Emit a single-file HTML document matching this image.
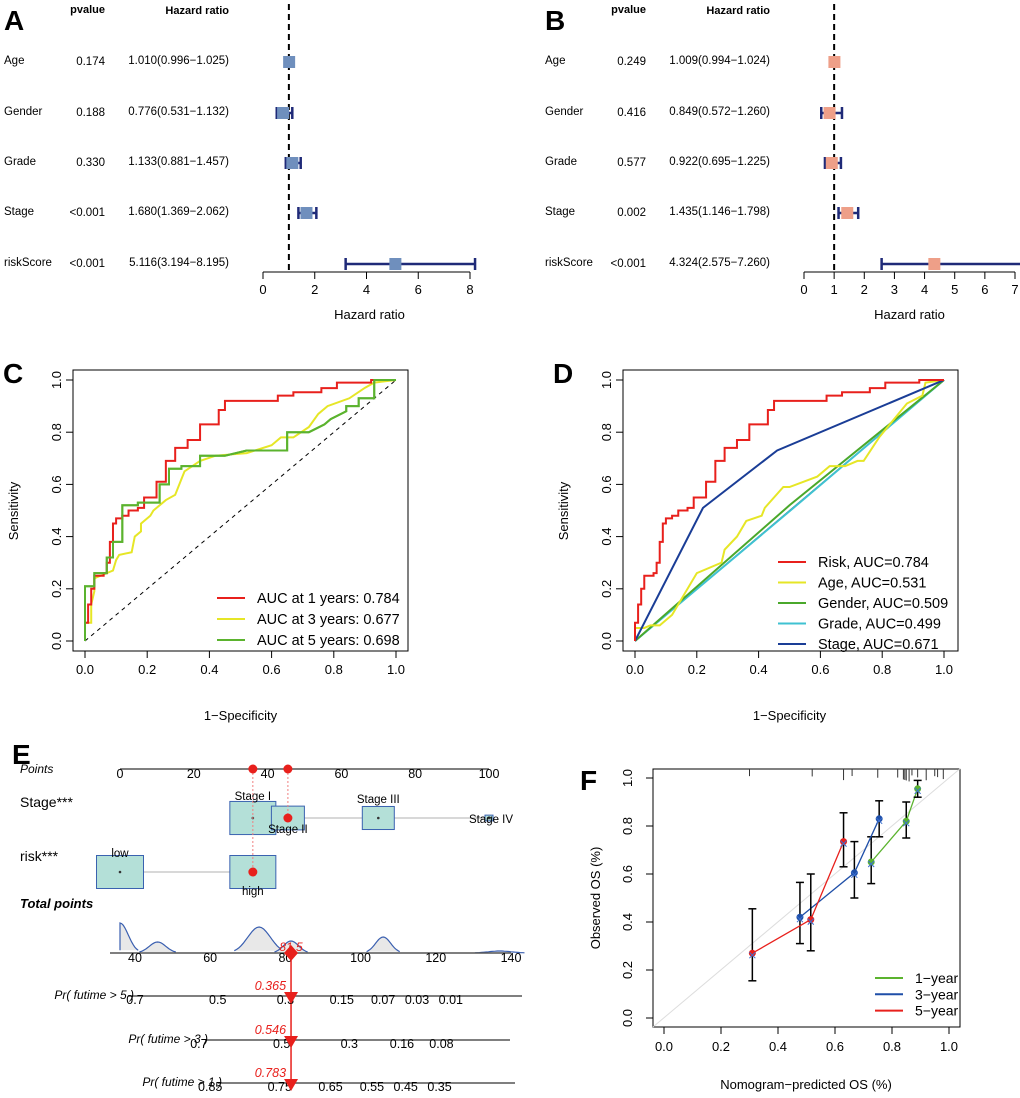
<!DOCTYPE html>
<html><head><meta charset="utf-8"><style>
body{margin:0;background:#fff}
svg{display:block;font-family:"Liberation Sans",Arial,sans-serif}
</style></head><body>
<svg id="fig" width="1020" height="1098" viewBox="0 0 1020 1098" xmlns="http://www.w3.org/2000/svg">
<g id="gA"></g>
<g id="gB"></g>
<g id="gC"></g>
<g id="gD"></g>
<g id="gE"></g>
<g id="gF"></g>
</svg>
<script>
// ---------- data ----------
const forestVars = ["Age","Gender","Grade","Stage","riskScore"];
const aP = ["0.174","0.188","0.330","<0.001","<0.001"];
const aHR = [1.010,0.776,1.133,1.680,5.116];
const aLo = [0.996,0.531,0.881,1.369,3.194];
const aHi = [1.025,1.132,1.457,2.062,8.195];
const aTicks = [0,2,4,6,8];
const bP = ["0.249","0.416","0.577","0.002","<0.001"];
const bHR = [1.009,0.849,0.922,1.435,4.324];
const bLo = [0.994,0.572,0.695,1.146,2.575];
const bHi = [1.024,1.260,1.225,1.798,7.260];
const bTicks = [0,1,2,3,4,5,6,7];

const rocTicks = [0,0.2,0.4,0.6,0.8,1.0];
const c1Fpr=[0,0,0.01,0.01,0.02,0.02,0.03,0.03,0.06,0.06,0.07,0.07,0.08,0.08,0.09,0.09,0.1,0.1,0.12,0.12,0.14,0.14,0.17,0.17,0.19,0.19,0.23,0.23,0.26,0.26,0.29,0.29,0.33,0.33,0.37,0.37,0.43,0.43,0.45,0.45,0.62,0.62,0.67,0.67,0.76,0.76,0.81,0.81,0.92,0.92,1];
const c1Tpr=[0,0.07,0.07,0.14,0.14,0.2,0.2,0.25,0.25,0.26,0.26,0.3,0.3,0.38,0.38,0.45,0.45,0.47,0.47,0.48,0.48,0.5,0.5,0.51,0.51,0.55,0.55,0.61,0.61,0.69,0.69,0.74,0.74,0.77,0.77,0.83,0.83,0.885,0.885,0.92,0.92,0.94,0.94,0.953,0.953,0.969,0.969,0.99,0.99,1,1];
const c3Fpr=[0,0,0.02,0.02,0.03,0.03,0.07,0.09,0.1,0.11,0.15,0.16,0.18,0.18,0.21,0.22,0.26,0.29,0.31,0.32,0.37,0.42,0.52,0.6,0.63,0.67,0.72,0.75,0.78,0.85,0.9,0.93,1];
const c3Tpr=[0,0.07,0.07,0.14,0.19,0.24,0.26,0.27,0.31,0.33,0.34,0.4,0.42,0.45,0.48,0.5,0.54,0.56,0.62,0.65,0.69,0.71,0.72,0.75,0.78,0.78,0.82,0.87,0.9,0.93,0.97,0.99,1];
const c5Fpr=[0,0,0.03,0.03,0.07,0.07,0.09,0.09,0.12,0.12,0.17,0.17,0.24,0.24,0.27,0.27,0.31,0.31,0.37,0.37,0.45,0.52,0.65,0.65,0.72,0.77,0.79,0.84,0.84,0.88,0.88,0.93,0.93,1];
const c5Tpr=[0,0.21,0.21,0.26,0.26,0.32,0.32,0.38,0.38,0.52,0.52,0.53,0.53,0.6,0.6,0.66,0.66,0.67,0.67,0.71,0.71,0.73,0.73,0.8,0.8,0.83,0.85,0.88,0.9,0.9,0.93,0.93,1,1];
const dAgeFpr=[0,0,0.03,0.05,0.08,0.12,0.2,0.28,0.29,0.33,0.36,0.41,0.42,0.48,0.5,0.59,0.63,0.68,0.72,0.74,0.79,0.88,0.93,0.94,1];
const dAgeTpr=[0,0.05,0.05,0.06,0.06,0.1,0.26,0.3,0.35,0.4,0.46,0.48,0.51,0.59,0.59,0.63,0.67,0.67,0.69,0.69,0.78,0.91,0.94,0.99,1];
const dGenFpr=[0,0.5,1], dGenTpr=[0,0.52,1];
const dGrdFpr=[0,0.5,1], dGrdTpr=[0,0.497,1];
const dStgFpr=[0,0.22,0.46,1], dStgTpr=[0,0.51,0.73,1];
const cLabels=["AUC at 1 years: 0.784","AUC at 3 years: 0.677","AUC at 5 years: 0.698"];
const dLabels=["Risk, AUC=0.784","Age, AUC=0.531","Gender, AUC=0.509","Grade, AUC=0.499","Stage, AUC=0.671"];

const ptsTicks=[0,20,40,60,80,100];
const stageLevels=["Stage I","Stage II","Stage III","Stage IV"];
const stagePts=[36,45.5,70,100];
const stageSize=[46,33,32,8];
const riskLevels=["low","high"];
const riskPts=[0,36];
const riskSize=[47,46];
const totTicks=[40,60,80,100,120,140];
const densCenters=[36,46,73,81.5,106,137];
const densHeights=[30,11,26,12,16,2];
const densWidths=[2.2,2.2,3,2,2,3];
const totalScore=81.5;
const pr5Labels=["0.7","0.5","0.3","0.15","0.07","0.03","0.01"];
const pr5Tot=[40,62,80,95,106,115,124];
const pr3Labels=["0.7","0.5","0.3","0.16","0.08"];
const pr3Tot=[57,79,97,111,121.5];
const pr1Labels=["0.85","0.75","0.65","0.55","0.45","0.35"];
const pr1Tot=[60,78.5,92,103,112,121];
const prValues=["0.365","0.546","0.783"];

const calTicks=[0,0.2,0.4,0.6,0.8,1.0];
const cal1Pred=[0.727,0.85,0.89], cal1Obs=[0.65,0.82,0.955], cal1Lo=[0.56,0.75,0.92], cal1Hi=[0.755,0.90,0.99];
const cal3Pred=[0.477,0.668,0.755], cal3Obs=[0.42,0.605,0.83], cal3Lo=[0.31,0.50,0.755], cal3Hi=[0.565,0.735,0.905];
const cal5Pred=[0.31,0.515,0.63], cal5Obs=[0.27,0.41,0.735], cal5Lo=[0.155,0.28,0.63], cal5Hi=[0.455,0.60,0.855];
const rugPred=[0.3,0.52,0.63,0.66,0.75,0.82,0.84,0.845,0.85,0.86,0.87,0.89,0.92,0.95,0.96,0.98];

// ---------- helpers ----------
const NS="http://www.w3.org/2000/svg";
function el(parent,tag,attrs,text){const e=document.createElementNS(NS,tag);for(const k in attrs)e.setAttribute(k,attrs[k]);if(text!==undefined)e.textContent=text;parent.appendChild(e);return e;}
function lin(d0,d1,r0,r1){return v=>r0+(v-d0)*(r1-r0)/(d1-d0);}

function panelLetter(g,x,y,t){const e=el(g,'text',{x:x,y:y,'font-size':28,'font-weight':'bold'},t);

}

// ---------- forest ----------
function forest(g,ox,pR,hrR,ax0,ax1,tmax,ticks,P,HR,LO,HI,fill,letter){
  const X=lin(0,tmax,ax0,ax1);
  const rows=[60,111,161,211,262];
  panelLetter(g,ox+4,30,letter);
  let t=el(g,'text',{x:pR,y:13,'font-size':11,'font-weight':'bold','text-anchor':'end'},'pvalue');
  
  t=el(g,'text',{x:hrR,y:14,'font-size':11,'font-weight':'bold','text-anchor':'end'},'Hazard ratio');
  
  const dl=el(g,'line',{x1:X(1),x2:X(1),y1:4,y2:272,stroke:'#000','stroke-width':2,'stroke-dasharray':'6,4'});
  
  forestVars.forEach((v,i)=>{
    const y=rows[i];
    let e=el(g,'text',{x:ox+4,y:y+4,'font-size':11.5},v);
    
    e=el(g,'text',{x:pR,y:y+5,'font-size':11.5,'text-anchor':'end'},P[i]);
    
    e=el(g,'text',{x:hrR,y:y+4,'font-size':11.5,'text-anchor':'end'},HR[i].toFixed(3)+'('+LO[i].toFixed(3)+'\u2212'+HI[i].toFixed(3)+')');
    
    const ci=el(g,'g',{});
    
    el(ci,'line',{x1:X(LO[i]),x2:X(HI[i]),y1:y+2,y2:y+2,stroke:'#1f2a78','stroke-width':2.5});
    el(ci,'line',{x1:X(LO[i]),x2:X(LO[i]),y1:y-4,y2:y+8,stroke:'#1f2a78','stroke-width':2.5});
    el(ci,'line',{x1:X(HI[i]),x2:X(HI[i]),y1:y-4,y2:y+8,stroke:'#1f2a78','stroke-width':2.5});
    e=el(g,'rect',{x:X(HR[i])-6,y:y-4,width:12,height:12,fill:fill});
    
  });
  const ax=el(g,'g',{});
  el(ax,'line',{x1:X(ticks[0]),x2:X(ticks[ticks.length-1]),y1:272,y2:272,stroke:'#000','stroke-width':1});
  ticks.forEach(tv=>{el(ax,'line',{x1:X(tv),x2:X(tv),y1:272,y2:279,stroke:'#000'});
    el(ax,'text',{x:X(tv),y:294,'font-size':13,'text-anchor':'middle'},String(tv));});
  t=el(g,'text',{x:(ax0+ax1)/2+ (letter==='A'?3:0),y:319,'font-size':13,'text-anchor':'middle'},'Hazard ratio');
  
}
forest(document.getElementById('gA'),0,105,229,263,470,8,aTicks,aP,aHR,aLo,aHi,'#6f8fbd','A');
forest(document.getElementById('gB'),541,646,770,804,1015,7,bTicks,bP,bHR,bLo,bHi,'#ee9f88','B');

// ---------- ROC ----------
function rocFrame(g,bx0,bx1,x0,x1,letter){
  const X=lin(0,1,x0,x1),Y=lin(0,1,641,380);
  panelLetter(g,bx0-70,383,letter);
  const b=el(g,'rect',{x:bx0,y:370,width:bx1-bx0,height:281,fill:'none',stroke:'#000','stroke-width':1});
  
  const xa=el(g,'g',{});
  el(xa,'line',{x1:X(0),x2:X(1),y1:651,y2:651,stroke:'#000'});
  rocTicks.forEach(v=>{el(xa,'line',{x1:X(v),x2:X(v),y1:651,y2:658,stroke:'#000'});
    el(xa,'text',{x:X(v),y:674,'font-size':13,'text-anchor':'middle'},v.toFixed(1));});
  const ya=el(g,'g',{});
  rocTicks.forEach(v=>{el(ya,'line',{x1:bx0,x2:bx0-7,y1:Y(v),y2:Y(v),stroke:'#000'});
    el(ya,'text',{x:bx0-12,y:Y(v),'font-size':13,'text-anchor':'middle',transform:`rotate(-90 ${bx0-12} ${Y(v)})`},v.toFixed(1));});
  let t=el(g,'text',{x:(x0+x1)/2,y:720,'font-size':13,'text-anchor':'middle'},'1\u2212Specificity');
  
  t=el(g,'text',{x:bx0-55,y:511,'font-size':13,'text-anchor':'middle',transform:`rotate(-90 ${bx0-55} 511)`},'Sensitivity');
  
  return [X,Y];
}
function curve(g,X,Y,fx,ty,color,w,name){
  const p=el(g,'polyline',{points:fx.map((f,i)=>X(f)+','+Y(ty[i])).join(' '),fill:'none',stroke:color,'stroke-width':w});
  
}
function legend(g,x,y0,dy,labels,colors,fs){
  const lg=el(g,'g',{});
  labels.forEach((l,i)=>{const y=y0+i*dy;
    const en=el(lg,'g',{});
    el(en,'line',{x1:x,x2:x+28,y1:y,y2:y,stroke:colors[i],'stroke-width':2});
    el(en,'text',{x:x+40,y:y+5,'font-size':fs||14.5},l);});
}
(function(){
  const g=document.getElementById('gC');
  const [X,Y]=rocFrame(g,73,408,85,396,'C');
  const dg=el(g,'line',{x1:X(0),y1:Y(0),x2:X(1),y2:Y(1),stroke:'#000','stroke-dasharray':'4,4'});
  
  curve(g,X,Y,c3Fpr,c3Tpr,'#e6e626',2,'roc-3-years');
  curve(g,X,Y,c5Fpr,c5Tpr,'#5bb32e',2,'roc-5-years');
  curve(g,X,Y,c1Fpr,c1Tpr,'#e8201c',2,'roc-1-year');
  curve(g,X,Y,c5Fpr,c5Tpr,'#5bb32e',2,'roc-5-years-top');
  legend(g,217,598,21,cLabels,['#e8201c','#e6e626','#5bb32e']);
})();
(function(){
  const g=document.getElementById('gD');
  const [X,Y]=rocFrame(g,623,958,635,944,'D');
  const dg=el(g,'line',{x1:X(0),y1:Y(0),x2:X(1),y2:Y(1),stroke:'#000','stroke-width':1});
  
  curve(g,X,Y,dGrdFpr,dGrdTpr,'#3fc2d2',2,'roc-grade');
  curve(g,X,Y,dGenFpr,dGenTpr,'#4aa82b',2,'roc-gender');
  curve(g,X,Y,dAgeFpr,dAgeTpr,'#e6e626',2,'roc-age');
  curve(g,X,Y,dStgFpr,dStgTpr,'#1a3d96',2,'roc-stage');
  curve(g,X,Y,c1Fpr,c1Tpr,'#e8201c',2,'roc-risk');
  legend(g,778,562,20.5,dLabels,['#e8201c','#e6e626','#4aa82b','#3fc2d2','#1a3d96']);
})();

// ---------- Nomogram ----------
(function(){
  const g=document.getElementById('gE');
  panelLetter(g,12,764,'E');
  const P=lin(0,100,120,489);
  const T=lin(40,140,135,511);
  function lab(x,y,txt,opt,name){const e=el(g,'text',Object.assign({x:x,y:y,'font-size':12},opt||{}),txt);
    return e;}
  lab(20,773,'Points',{'font-style':'italic'},'points-label');
  const pa=el(g,'g',{});
  el(pa,'line',{x1:P(0),x2:P(100),y1:769,y2:769,stroke:'#555','stroke-width':1.5});
  ptsTicks.forEach(v=>el(pa,'text',{x:P(v),y:778,'font-size':12.5,'text-anchor':'middle'},String(v)));
  lab(20,807,'Stage***',{'font-size':14},'stage-label');
  lab(20,861,'risk***',{'font-size':14},'risk-label');
  el(g,'line',{x1:P(stagePts[0]),x2:P(stagePts[3]),y1:818,y2:818,stroke:'#ccc','stroke-width':1.5});
  const stLabY=[800,833,803,823];
  stagePts.forEach((v,i)=>{const s=stageSize[i];
    const r=el(g,'rect',{x:P(v)-s/2,y:818-s*0.36,width:s,height:s*0.72,fill:'#b4e0d8',stroke:'#3a62b0','stroke-width':1});
    
    el(g,'circle',{cx:P(v),cy:818,r:1.3,fill:'#333'});
    lab(P(v)+(i==3?2:0),stLabY[i],stageLevels[i],{'font-size':11.5,'text-anchor':'middle'},'stage-level-label');
  });
  el(g,'line',{x1:P(riskPts[0]),x2:P(riskPts[1]),y1:872,y2:872,stroke:'#ccc','stroke-width':1.5});
  riskPts.forEach((v,i)=>{const s=riskSize[i];
    const r=el(g,'rect',{x:P(v)-s/2,y:872-16.5,width:s,height:33,fill:'#b4e0d8',stroke:'#3a62b0','stroke-width':1});
    
    el(g,'circle',{cx:P(v),cy:872,r:1.3,fill:'#333'});
    lab(P(v),i==0?857:895,riskLevels[i],{'font-size':11.5,'text-anchor':'middle'},'risk-level-label');
  });
  const sel=[stagePts[1],riskPts[1]], selY=[818,872];
  sel.forEach((v,i)=>{
    el(g,'line',{x1:P(v),x2:P(v),y1:769,y2:selY[i],stroke:'#f08080','stroke-dasharray':'2,2'});
    let c=el(g,'circle',{cx:P(v),cy:selY[i],r:4.5,fill:'#e8201c'});
    
    el(g,'circle',{cx:P(v),cy:769,r:4.5,fill:'#e8201c'});
  });
  lab(20,908,'Total points',{'font-size':13,'font-weight':'bold','font-style':'italic'},'total-points-label');
  const dg=el(g,'g',{});
  densCenters.forEach((c,i)=>{
    let d='';const w=densWidths[i];
    for(let k=-2.2;k<=2.21;k+=0.2){const t=c+k*w;const h=densHeights[i]*Math.exp(-k*k/2);
      d+=(d?'L':'M')+Math.max(T(t),120).toFixed(1)+','+(953-h).toFixed(1);}
    el(dg,'path',{d:d,fill:'#e8e8e8',stroke:'#3a5fb0','stroke-width':1.2});
  });
  const ta=el(g,'g',{});
  el(ta,'line',{x1:110,x2:T(140),y1:953,y2:953,stroke:'#555','stroke-width':1.5});
  totTicks.forEach(v=>el(ta,'text',{x:T(v),y:962,'font-size':12.5,'text-anchor':'middle'},String(v)));
  function prAxis(y,x0,x1,labels,tots,title,tx,val){
    const a=el(g,'g',{});
    el(a,'line',{x1:x0,x2:x1,y1:y,y2:y,stroke:'#555','stroke-width':1.5});
    labels.forEach((l,i)=>el(a,'text',{x:T(tots[i]),y:y+8,'font-size':12.5,'text-anchor':'middle'},l));
    lab(tx,y+3,title,{'font-size':12,'font-style':'italic','text-anchor':'end'},'probability-axis-title');
    lab(T(totalScore)-5,y-6,val,{'font-size':12.5,'font-style':'italic',fill:'#e8201c','text-anchor':'end'},'predicted-probability');
    const m=el(g,'path',{d:`M${T(totalScore)-7},${y-4}L${T(totalScore)+7},${y-4}L${T(totalScore)},${y+8}Z`,fill:'#e8201c'});
    
  }
  el(g,'line',{x1:T(totalScore),x2:T(totalScore),y1:953,y2:1083,stroke:'#e8201c','stroke-width':1.5});
  prAxis(996,128,522,pr5Labels,pr5Tot,'Pr( futime > 5 )',134,prValues[0]);
  prAxis(1040,205,510,pr3Labels,pr3Tot,'Pr( futime > 3 )',208,prValues[1]);
  prAxis(1083,218,515,pr1Labels,pr1Tot,'Pr( futime > 1 )',222,prValues[2]);
  const dm=el(g,'path',{d:`M${T(totalScore)},945L${T(totalScore)+7},953L${T(totalScore)},961L${T(totalScore)-7},953Z`,fill:'#e8201c'});
  
  lab(T(totalScore),951,String(totalScore),{'font-size':12,'font-style':'italic',fill:'#e8201c','text-anchor':'middle'},'total-points-value');
})();

// ---------- Calibration ----------
(function(){
  const g=document.getElementById('gF');
  panelLetter(g,580,790,'F');
  const X=lin(0,1,664,949),Y=lin(0,1,1018,778);
  const b=el(g,'rect',{x:653,y:769,width:307,height:258,fill:'none',stroke:'#000'});
  
  const dg=el(g,'line',{x1:653,y1:1027,x2:X(1.04),y2:Y(1.04),stroke:'#ddd'});
  
  const rg=el(g,'g',{});
  rugPred.forEach(v=>el(rg,'line',{x1:X(v),x2:X(v),y1:769,y2:775+((v*97)%7),stroke:'#333'}));
  const xa=el(g,'g',{});
  el(xa,'line',{x1:X(0),x2:X(1),y1:1027,y2:1027,stroke:'#000'});
  calTicks.forEach(v=>{el(xa,'line',{x1:X(v),x2:X(v),y1:1027,y2:1034,stroke:'#000'});
    el(xa,'text',{x:X(v),y:1051,'font-size':13,'text-anchor':'middle'},v.toFixed(1));});
  const ya=el(g,'g',{});
  calTicks.forEach(v=>{el(ya,'line',{x1:653,x2:646,y1:Y(v),y2:Y(v),stroke:'#000'});
    el(ya,'text',{x:632,y:Y(v),'font-size':13,'text-anchor':'middle',transform:`rotate(-90 632 ${Y(v)})`},v.toFixed(1));});
  let t=el(g,'text',{x:806,y:1089,'font-size':13,'text-anchor':'middle'},'Nomogram\u2212predicted OS (%)');
  
  t=el(g,'text',{x:600,y:898,'font-size':13,'text-anchor':'middle',transform:'rotate(-90 600 898)'},'Observed OS (%)');
  
  function series(pr,ob,lo,hi,color,name){
    const s=el(g,'g',{});
    el(s,'polyline',{points:pr.map((p,i)=>X(p)+','+Y(ob[i])).join(' '),fill:'none',stroke:color,'stroke-width':1.3});
    pr.forEach((p,i)=>{
      el(s,'line',{x1:X(p),x2:X(p),y1:Y(lo[i]),y2:Y(hi[i]),stroke:'#000','stroke-width':1.5});
      el(s,'line',{x1:X(p)-4,x2:X(p)+4,y1:Y(lo[i]),y2:Y(lo[i]),stroke:'#000','stroke-width':1.5});
      el(s,'line',{x1:X(p)-4,x2:X(p)+4,y1:Y(hi[i]),y2:Y(hi[i]),stroke:'#000','stroke-width':1.5});
      el(s,'circle',{cx:X(p),cy:Y(ob[i]),r:3.5,fill:color});
      el(s,'path',{d:`M${X(p)-3},${Y(ob[i])-1}l6,6M${X(p)+3},${Y(ob[i])-1}l-6,6`,stroke:'#3a6fd0','stroke-width':1});
    });
  }
  series(cal1Pred,cal1Obs,cal1Lo,cal1Hi,'#5bb32e','calibration-1-year');
  series(cal3Pred,cal3Obs,cal3Lo,cal3Hi,'#1f4fa8','calibration-3-year');
  series(cal5Pred,cal5Obs,cal5Lo,cal5Hi,'#e8201c','calibration-5-year');
  legend(g,875,978,16.3,['1\u2212year','3\u2212year','5\u2212year'],['#5bb32e','#1f4fa8','#e8201c'],14);
})();
</script>
</body></html>
